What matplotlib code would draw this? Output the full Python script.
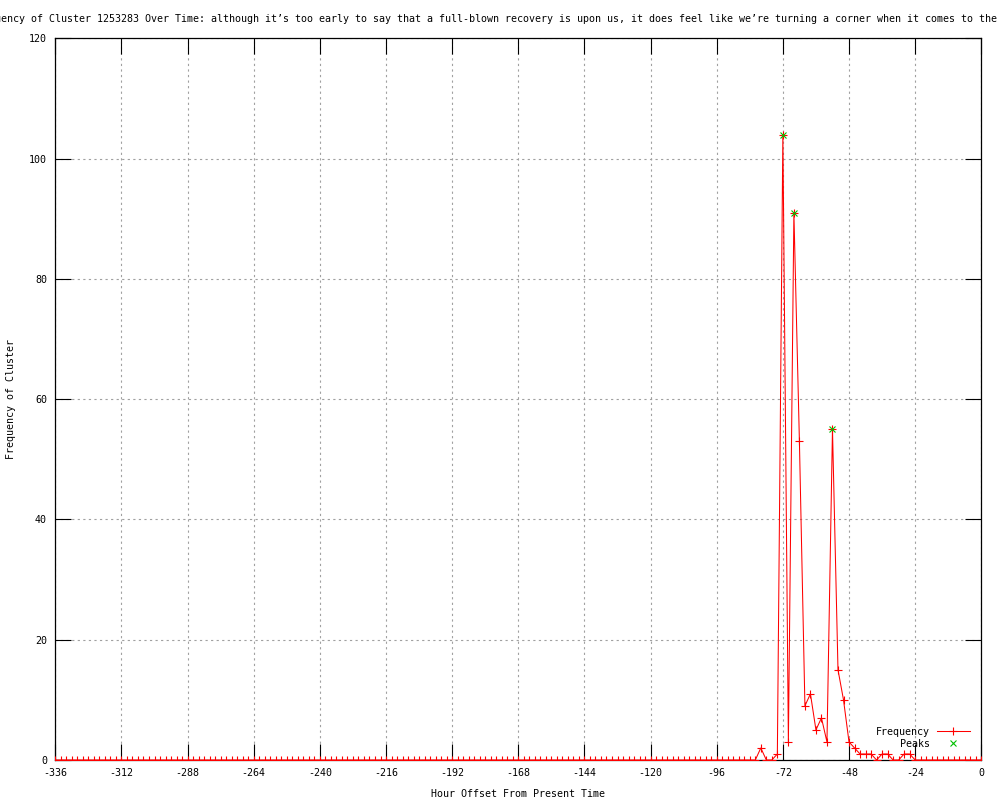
import matplotlib
matplotlib.use("Agg")
import matplotlib.pyplot as plt

# ---- data ----
hours = list(range(-336, 1, 2))
frequency = [
    0, 0, 0, 0, 0, 0, 0, 0, 0, 0, 0, 0, 0, 0, 0, 0,
    0, 0, 0, 0, 0, 0, 0, 0, 0, 0, 0, 0, 0, 0, 0, 0,
    0, 0, 0, 0, 0, 0, 0, 0, 0, 0, 0, 0, 0, 0, 0, 0,
    0, 0, 0, 0, 0, 0, 0, 0, 0, 0, 0, 0, 0, 0, 0, 0,
    0, 0, 0, 0, 0, 0, 0, 0, 0, 0, 0, 0, 0, 0, 0, 0,
    0, 0, 0, 0, 0, 0, 0, 0, 0, 0, 0, 0, 0, 0, 0, 0,
    0, 0, 0, 0, 0, 0, 0, 0, 0, 0, 0, 0, 0, 0, 0, 0,
    0, 0, 0, 0, 0, 0, 0, 0, 0, 0, 0, 0, 0, 0, 0, 0,
    # -80 .. -24
    2, 0, 0, 1, 104, 3, 91, 53, 9, 11, 5, 7, 3, 55, 15, 10,
    3, 2, 1, 1, 1, 0, 1, 1, 0, 0, 1, 1, 0,
    # -22 .. 0
    0, 0, 0, 0, 0, 0, 0, 0, 0, 0, 0, 0,
]
peak_hours = [-72, -68, -54]
peak_values = [104, 91, 55]

xticks = list(range(-336, 1, 24))
yticks = [0, 20, 40, 60, 80, 100, 120]

title = ("Frequency of Cluster 1253283 Over Time: although it\u2019s too early to say that "
         "a full-blown recovery is upon us, it does feel like we\u2019re turning a corner "
         "when it comes to the")

plt.rcParams['font.family'] = ['DejaVu Sans Mono']
plt.rcParams['font.size'] = 7.2
plt.rcParams['axes.unicode_minus'] = False

fig = plt.figure(figsize=(10, 8), dpi=100)
ax = fig.add_axes([0.0553, 0.05, 0.9260, 0.9021])

ax.plot(hours, frequency, color='#ff0000', linewidth=0.75, marker='+',
        markersize=6, markeredgewidth=0.8, label='Frequency', zorder=3)
ax.plot(peak_hours, peak_values, linestyle='none', color='#00c000', marker='x',
        markersize=5, markeredgewidth=0.8, label='Peaks', zorder=4)

ax.set_xlim(-336, 0)
ax.set_ylim(0, 120)
ax.set_xticks(xticks)
ax.set_yticks(yticks)
ax.grid(True, color='#a0a0a0', linestyle=(0, (2, 3)), linewidth=0.8)
ax.tick_params(direction='in', length=11.7, width=0.8, top=True, right=True,
               labelsize=7.2, pad=6)
for s in ax.spines.values():
    s.set_linewidth(0.9)

ax.set_xlabel('Hour Offset From Present Time', fontsize=7.2, labelpad=8)
ax.set_ylabel('Frequency of Cluster', fontsize=7.2, labelpad=9)

fig.text(-0.029, 0.976, title, ha='left', va='center', fontsize=7.2)

leg = ax.legend(loc='upper right', bbox_to_anchor=(0.992, 0.0513), frameon=False,
                markerfirst=False, handlelength=3.3, handletextpad=0.7,
                labelspacing=0.2, fontsize=7.2, alignment='right',
                borderpad=0.4, borderaxespad=0.0)

fig.savefig('out.png', dpi=100)
